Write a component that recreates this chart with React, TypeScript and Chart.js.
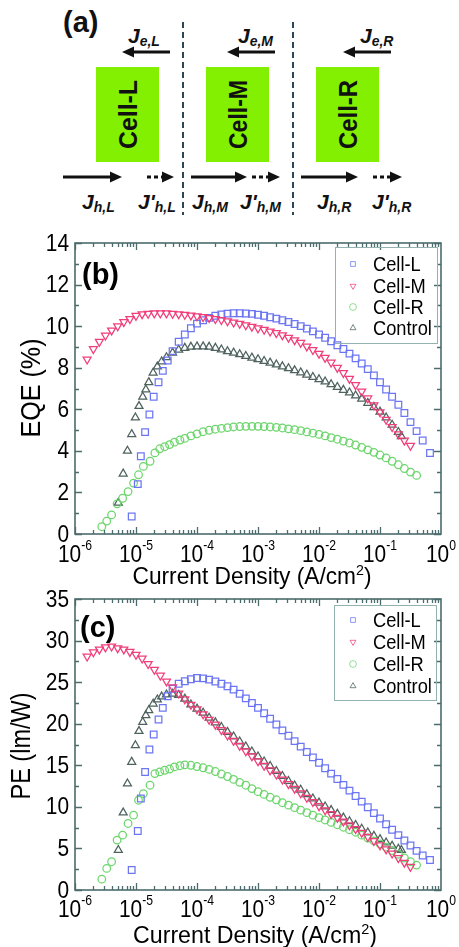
import { useEffect, useRef } from 'react';
import { Chart, registerables } from 'chart.js';

Chart.register(...registerables);

const SANS = '"Liberation Sans", Arial, Helvetica, sans-serif';
const FRAME = '#4b6b6c';

// ---------------- measured data ----------------
const seriesNames = ['Cell-L', 'Cell-M', 'Cell-R', 'Control'];

// current density (A/cm2) of every recorded step, one list per device
const cellL_J = [
  8.5e-6, 1.07e-5, 1.2e-5, 1.41e-5, 1.66e-5, 1.95e-5, 2.34e-5, 2.75e-5, 3.31e-5, 3.98e-5, 5.01e-5, 6.31e-5, 7.94e-5,
  1e-4, 1.26e-4, 1.58e-4, 2e-4, 2.51e-4, 3.16e-4, 3.98e-4, 5.01e-4, 6.31e-4, 7.94e-4,
  1e-3, 1.26e-3, 1.58e-3, 2e-3, 2.51e-3, 3.16e-3, 3.98e-3, 5.01e-3, 6.31e-3, 7.94e-3,
  0.01, 0.0126, 0.0158, 0.02, 0.0251, 0.0316, 0.0398, 0.0501, 0.0631, 0.0794,
  0.1, 0.126, 0.158, 0.2, 0.251, 0.316, 0.398, 0.501, 0.66,
];
const cellM_J = [
  1.58e-6, 2e-6, 2.51e-6, 3.16e-6, 3.98e-6, 5.01e-6, 6.31e-6, 7.94e-6,
  1e-5, 1.26e-5, 1.58e-5, 2e-5, 2.51e-5, 3.16e-5, 3.98e-5, 5.01e-5, 6.31e-5, 7.94e-5,
  1e-4, 1.26e-4, 1.58e-4, 2e-4, 2.51e-4, 3.16e-4, 3.98e-4, 5.01e-4, 6.31e-4, 7.94e-4,
  1e-3, 1.26e-3, 1.58e-3, 2e-3, 2.51e-3, 3.16e-3, 3.98e-3, 5.01e-3, 6.31e-3, 7.94e-3,
  0.01, 0.0126, 0.0158, 0.02, 0.0251, 0.0316, 0.0398, 0.0501, 0.0631, 0.0794,
  0.1, 0.126, 0.158, 0.2, 0.251, 0.316,
];
const cellR_J = [
  2.75e-6, 3.31e-6, 3.98e-6, 4.9e-6, 6.03e-6, 7.41e-6, 9.12e-6, 1.1e-5, 1.32e-5,
  1.7e-5, 2.04e-5, 2.45e-5, 2.95e-5, 3.55e-5, 4.27e-5, 5.25e-5, 6.31e-5, 7.94e-5,
  1e-4, 1.26e-4, 1.58e-4, 2e-4, 2.51e-4, 3.16e-4, 3.98e-4, 5.01e-4, 6.31e-4, 7.94e-4,
  1e-3, 1.26e-3, 1.58e-3, 2e-3, 2.51e-3, 3.16e-3, 3.98e-3, 5.01e-3, 6.31e-3, 7.94e-3,
  0.01, 0.0126, 0.0158, 0.02, 0.0251, 0.0316, 0.0398, 0.0501, 0.0631, 0.0794,
  0.1, 0.126, 0.158, 0.2, 0.251, 0.316, 0.398,
];
const control_J = [
  5.13e-6, 6.17e-6, 7.24e-6, 8.51e-6, 9.77e-6, 1.12e-5, 1.29e-5, 1.45e-5, 1.62e-5,
  1.91e-5, 2.24e-5, 2.63e-5, 3.16e-5, 3.98e-5, 5.01e-5, 6.31e-5, 7.94e-5,
  1e-4, 1.26e-4, 1.58e-4, 2e-4, 2.51e-4, 3.16e-4, 3.98e-4, 5.01e-4, 6.31e-4, 7.94e-4,
  1e-3, 1.26e-3, 1.58e-3, 2e-3, 2.51e-3, 3.16e-3, 3.98e-3, 5.01e-3, 6.31e-3, 7.94e-3,
  0.01, 0.0126, 0.0158, 0.02, 0.0251, 0.0316, 0.0398, 0.0501, 0.0631, 0.0794,
  0.1, 0.126, 0.158, 0.2, 0.224,
];

// external quantum efficiency (%)
const cellL_EQE = [
  0.84, 2.4, 3.74, 4.9, 5.75, 6.6, 7.3, 7.85, 8.35, 8.8, 9.25, 9.6, 9.9,
  10.12, 10.28, 10.4, 10.5, 10.56, 10.6, 10.62, 10.62, 10.61, 10.59,
  10.55, 10.5, 10.43, 10.36, 10.28, 10.2, 10.1, 10.0, 9.88, 9.75,
  9.6, 9.44, 9.27, 9.08, 8.9, 8.68, 8.45, 8.2, 7.93, 7.63,
  7.3, 6.95, 6.6, 6.22, 5.82, 5.38, 4.95, 4.5, 3.9,
];
const cellM_EQE = [
  8.4, 8.9, 9.25, 9.55, 9.8, 10.0, 10.2, 10.35,
  10.5, 10.58, 10.6, 10.62, 10.62, 10.62, 10.6, 10.58, 10.55, 10.52,
  10.48, 10.44, 10.4, 10.35, 10.3, 10.24, 10.18, 10.12, 10.05, 9.98,
  9.9, 9.83, 9.75, 9.67, 9.57, 9.45, 9.33, 9.2, 9.03, 8.86,
  8.68, 8.48, 8.25, 8.0, 7.75, 7.47, 7.17, 6.86, 6.53, 6.2,
  5.86, 5.5, 5.15, 4.8, 4.5, 4.25,
];
const cellR_EQE = [
  0.35, 0.62, 0.92, 1.45, 1.72, 2.04, 2.45, 2.85, 3.25,
  3.5, 3.9, 4.1, 4.2, 4.3, 4.42, 4.52, 4.6, 4.72,
  4.82, 4.92, 4.99, 5.04, 5.08, 5.12, 5.15, 5.17, 5.18, 5.18,
  5.18, 5.17, 5.15, 5.13, 5.1, 5.06, 5.02, 4.97, 4.91, 4.85,
  4.79, 4.72, 4.64, 4.56, 4.47, 4.38, 4.28, 4.17, 4.05, 3.93,
  3.8, 3.66, 3.5, 3.33, 3.15, 2.98, 2.82,
];
const control_EQE = [
  1.5, 2.9, 4.0, 4.8, 5.6, 6.15, 6.6, 6.95, 7.3,
  7.75, 8.05, 8.3, 8.5, 8.72, 8.86, 8.95, 9.0,
  9.02, 9.02, 9.0, 8.95, 8.87, 8.79, 8.72, 8.64, 8.56, 8.48,
  8.4, 8.32, 8.24, 8.15, 8.06, 7.97, 7.87, 7.77, 7.66, 7.55,
  7.44, 7.33, 7.2, 7.07, 6.93, 6.8, 6.66, 6.5, 6.3, 6.1,
  5.88, 5.6, 5.25, 4.9, 4.7,
];

// power efficiency (lm/W)
const cellL_PE = [
  2.4, 7.1, 11.0, 14.2, 16.9, 18.7, 20.5, 21.9, 23.3, 24.2, 24.8, 25.1, 25.35,
  25.5, 25.45, 25.3, 25.07, 24.8, 24.5, 24.1, 23.6, 23.05, 22.5,
  21.9, 21.25, 20.6, 19.9, 19.2, 18.55, 17.9, 17.25, 16.6, 15.95,
  15.3, 14.65, 14.0, 13.35, 12.65, 11.95, 11.3, 10.63, 9.95, 9.25,
  8.6, 7.9, 7.25, 6.6, 5.95, 5.35, 4.7, 4.15, 3.6,
];
const cellM_PE = [
  28.1, 28.6, 28.95, 29.2, 29.3, 29.1, 28.95, 28.65,
  28.3, 27.85, 27.2, 26.5, 25.8, 25.1, 24.4, 23.65, 22.95, 22.3,
  21.75, 21.15, 20.5, 19.9, 19.25, 18.6, 17.95, 17.35, 16.7, 16.1,
  15.5, 14.95, 14.4, 13.9, 13.3, 12.75, 12.2, 11.65, 11.1, 10.6,
  10.1, 9.6, 9.15, 8.7, 8.25, 7.8, 7.35, 6.9, 6.4, 5.9,
  5.4, 4.9, 4.4, 3.85, 3.3, 2.8,
];
const cellR_PE = [
  1.3, 2.6, 3.4, 6.0, 6.6, 8.0, 9.0, 10.8, 11.6,
  12.6, 14.0, 14.2, 14.4, 14.55, 14.8, 14.95, 15.05, 15.0,
  14.85, 14.7, 14.5, 14.25, 13.95, 13.65, 13.3, 12.95, 12.6, 12.2,
  11.83, 11.5, 11.15, 10.85, 10.5, 10.2, 9.9, 9.6, 9.3, 9.0,
  8.7, 8.42, 8.13, 7.85, 7.55, 7.25, 6.95, 6.6, 6.25, 5.9,
  5.55, 5.15, 4.75, 4.3, 3.85, 3.4, 3.0,
];
const control_PE = [
  4.8, 9.3, 12.8, 15.4, 17.4, 19.1, 20.2, 21.0, 21.6,
  22.4, 22.9, 23.25, 23.5, 23.58, 23.45, 23.0, 22.3,
  21.8, 21.3, 20.7, 20.15, 19.6, 19.0, 18.45, 17.85, 17.25, 16.65,
  16.05, 15.45, 14.9, 14.3, 13.7, 13.1, 12.55, 12.05, 11.5, 11.0,
  10.5, 10.03, 9.6, 9.15, 8.7, 8.25, 7.8, 7.35, 6.9, 6.5,
  6.1, 5.7, 5.3, 4.95, 4.8,
];

const xTickExponents = [-6, -5, -4, -3, -2, -1, 0];
const eqeTicks = [0, 2, 4, 6, 8, 10, 12, 14];
const peTicks = [0, 5, 10, 15, 20, 25, 30, 35];

// ---------------- styling ----------------
const currentDensity = [cellL_J, cellM_J, cellR_J, control_J];

const markerStyles = [
  { color: 'rgb(108,118,242)', pointStyle: 'rect', radius: 4.7, rotation: 0, order: 2 },
  { color: 'rgb(240,62,122)', pointStyle: 'triangle', radius: 4.6, rotation: 180, order: 1 },
  { color: 'rgb(108,214,108)', pointStyle: 'circle', radius: 3.8, rotation: 0, order: 3 },
  { color: 'rgb(78,98,94)', pointStyle: 'triangle', radius: 4.6, rotation: 0, order: 4 },
];

const eqePanel = {
  top: 212,
  height: 380,
  padding: { left: 75, right: 18, top: 31, bottom: 58 },
  yMax: 14,
  yTicks: eqeTicks,
  yMinor: 1,
  values: [cellL_EQE, cellM_EQE, cellR_EQE, control_EQE],
  letter: '(b)',
  letterPos: [82, 284],
  yTitle: 'EQE (%)',
  yTitlePos: [33, 388],
  yTitleLen: 99,
  tickBaseline: 562,
  xTitleBaseline: 584,
  xTitleCenter: 252,
  xTitleLen: 239,
  legendBox: [335, 247, 102, 96],
  legendRows: [264, 286, 307, 328],
};

const pePanel = {
  top: 580,
  height: 367,
  padding: { left: 75, right: 18, top: 19, bottom: 57 },
  yMax: 35,
  yTicks: peTicks,
  yMinor: 2.5,
  values: [cellL_PE, cellM_PE, cellR_PE, control_PE],
  letter: '(c)',
  letterPos: [80, 637],
  yTitle: 'PE (lm/W)',
  yTitlePos: [23, 746],
  yTitleLen: 107,
  tickBaseline: 917,
  xTitleBaseline: 943,
  xTitleCenter: 255,
  xTitleLen: 244,
  legendBox: [334, 605, 102, 95],
  legendRows: [620, 642, 664, 686],
};

function drawText(ctx: any, s: string, x: number, y: number, size: number, o: any = {}) {
  ctx.save();
  ctx.font = `${o.weight || 'normal'} ${size}px ${SANS}`;
  ctx.textAlign = o.align || 'left';
  ctx.textBaseline = o.baseline || 'alphabetic';
  ctx.fillStyle = o.color || '#000';
  ctx.translate(x, y);
  if (o.rotate) ctx.rotate(o.rotate);
  ctx.scale(o.sx || 1, 1);
  ctx.fillText(s, 0, 0);
  ctx.restore();
}

function textWidth(ctx: any, s: string, size: number, weight = 'normal') {
  ctx.save();
  ctx.font = `${weight} ${size}px ${SANS}`;
  const w = ctx.measureText(s).width;
  ctx.restore();
  return w;
}

function drawMarker(ctx: any, style: any, x: number, y: number, r: number) {
  ctx.save();
  ctx.strokeStyle = style.color;
  ctx.lineWidth = 1;
  ctx.beginPath();
  if (style.pointStyle === 'rect') {
    const h = r * Math.SQRT1_2;
    ctx.rect(x - h, y - h, 2 * h, 2 * h);
  } else if (style.pointStyle === 'circle') {
    ctx.arc(x, y, r, 0, Math.PI * 2);
  } else {
    const dir = style.rotation === 180 ? -1 : 1;
    ctx.moveTo(x, y - dir * r);
    ctx.lineTo(x + r * 0.866, y + dir * r * 0.5);
    ctx.lineTo(x - r * 0.866, y + dir * r * 0.5);
    ctx.closePath();
  }
  ctx.stroke();
  ctx.restore();
}

function makeDecor(spec: any) {
  return {
    id: 'panelDecor',
    afterDraw(chart: any) {
      const ctx = chart.ctx;
      const a = chart.chartArea;
      const xs = chart.scales.x;
      const ys = chart.scales.y;
      const T = spec.top;
      ctx.save();

      // inward ticks on all four sides
      ctx.strokeStyle = FRAME;
      ctx.lineWidth = 1.3;
      ctx.beginPath();
      for (let e = -6; e < 0; e++) {
        for (let m = 1; m < 10; m++) {
          const px = Math.round(xs.getPixelForValue(m * Math.pow(10, e))) + 0.5;
          const len = m === 1 ? 7 : 4;
          ctx.moveTo(px, a.bottom);
          ctx.lineTo(px, a.bottom - len);
          ctx.moveTo(px, a.top);
          ctx.lineTo(px, a.top + len);
        }
      }
      for (let v = 0; v <= spec.yMax + 1e-9; v += spec.yMinor) {
        const py = Math.round(ys.getPixelForValue(v)) + 0.5;
        const len = spec.yTicks.includes(v) ? 7 : 4;
        ctx.moveTo(a.left, py);
        ctx.lineTo(a.left + len, py);
        ctx.moveTo(a.right, py);
        ctx.lineTo(a.right - len, py);
      }
      ctx.stroke();

      // frame
      ctx.lineWidth = 1.6;
      ctx.strokeRect(a.left, a.top, a.right - a.left, a.bottom - a.top);

      // y tick labels
      spec.yTicks.forEach((v: number) => {
        drawText(ctx, String(v), 69, ys.getPixelForValue(v) + 1, 24, { align: 'right', baseline: 'middle', sx: 0.87 });
      });

      // x tick labels 10^n
      xTickExponents.forEach((n) => {
        const px = xs.getPixelForValue(Math.pow(10, n));
        const exp = String(n);
        const wb = textWidth(ctx, '10', 24) * 0.87;
        const we = textWidth(ctx, exp, 14) * 0.87;
        const x0 = px - (wb + we) / 2;
        drawText(ctx, '10', x0, spec.tickBaseline - T, 24, { sx: 0.87 });
        drawText(ctx, exp, x0 + wb, spec.tickBaseline - T - 12, 14, { sx: 0.87 });
      });

      // x axis title with superscript
      const p1 = 'Current Density (A/cm';
      const w1 = textWidth(ctx, p1, 24);
      const w2 = textWidth(ctx, '2', 15);
      const w3 = textWidth(ctx, ')', 24);
      const sx = spec.xTitleLen / (w1 + w2 + w3);
      let xx = spec.xTitleCenter - spec.xTitleLen / 2;
      const yb = spec.xTitleBaseline - T;
      drawText(ctx, p1, xx, yb, 24, { sx });
      xx += w1 * sx;
      drawText(ctx, '2', xx, yb - 9, 15, { sx });
      xx += w2 * sx;
      drawText(ctx, ')', xx, yb, 24, { sx });

      // y axis title
      const wy = textWidth(ctx, spec.yTitle, 27);
      drawText(ctx, spec.yTitle, spec.yTitlePos[0], spec.yTitlePos[1] - T, 27, {
        align: 'center',
        baseline: 'middle',
        rotate: -Math.PI / 2,
        sx: spec.yTitleLen / wy,
      });

      // panel letter
      drawText(ctx, spec.letter, spec.letterPos[0], spec.letterPos[1] - T, 29, { weight: 'bold' });

      // legend
      const [bx, by, bw, bh] = spec.legendBox;
      ctx.strokeStyle = '#93b1ae';
      ctx.lineWidth = 1;
      ctx.strokeRect(bx + 0.5, by - T + 0.5, bw, bh);
      chart.data.datasets.forEach((ds: any, i: number) => {
        const ry = spec.legendRows[i] - T;
        ctx.save();
        ctx.globalAlpha = 0.75;
        drawMarker(ctx, markerStyles[i], 353, ry, 3.4);
        ctx.restore();
        drawText(ctx, ds.label, 373, ry + 1, 21, { baseline: 'middle', sx: 0.87 });
      });

      ctx.restore();
    },
  };
}

function PanelChart({ spec }: { spec: any }) {
  const ref = useRef<HTMLCanvasElement>(null);
  useEffect(() => {
    const canvas = ref.current as HTMLCanvasElement;
    const datasets = spec.values.map((vals: number[], i: number) => {
      const m = markerStyles[i];
      return {
        label: seriesNames[i],
        data: currentDensity[i].map((j, k) => ({ x: j, y: vals[k] })),
        pointStyle: m.pointStyle,
        pointRadius: m.radius,
        pointRotation: m.rotation,
        pointBorderWidth: 1.25,
        pointBorderColor: m.color,
        pointBackgroundColor: 'rgba(255,255,255,0)',
        showLine: false,
        order: m.order,
      };
    });
    const chart = new Chart(canvas, {
      type: 'scatter',
      data: { datasets },
      options: {
        responsive: false,
        animation: false,
        devicePixelRatio: 1,
        events: [],
        layout: { padding: spec.padding },
        scales: {
          x: { type: 'logarithmic', min: 1e-6, max: 1, display: false },
          y: { type: 'linear', min: 0, max: spec.yMax, display: false },
        },
        plugins: { legend: { display: false }, tooltip: { enabled: false }, title: { display: false } },
      },
      plugins: [makeDecor(spec)],
    } as any);
    return () => chart.destroy();
  }, [spec]);
  return (
    <canvas
      ref={ref}
      width={459}
      height={spec.height}
      style={{ position: 'absolute', left: 0, top: spec.top, width: 459, height: spec.height }}
    />
  );
}

// ---------------- schematic of the three stacked units ----------------
const schematicCells = [
  { name: 'Cell-L', tag: 'L', boxX: 96, eArrow: [170, 122], eLabelX: 128, hArrow: [63, 122], hDotted: [147, 174], hLabelX: 82, hpLabelX: 138 },
  { name: 'Cell-M', tag: 'M', boxX: 206, eArrow: [275, 227], eLabelX: 238, hArrow: [191, 247], hDotted: [252, 280], hLabelX: 192, hpLabelX: 240 },
  { name: 'Cell-R', tag: 'R', boxX: 316, eArrow: [391, 343], eLabelX: 360, hArrow: [301, 358], hDotted: [373, 402], hLabelX: 317, hpLabelX: 372 },
];
const dividerX = [183, 293];

function Arrow({ from, to, y, dotted }: { from: number; to: number; y: number; dotted?: boolean }) {
  const dir = to > from ? 1 : -1;
  const headLen = 12;
  const base = to - dir * headLen;
  return (
    <g>
      <line
        x1={from}
        y1={y}
        x2={base + dir * 1}
        y2={y}
        stroke="#111"
        strokeWidth={3.2}
        strokeDasharray={dotted ? '4 3' : undefined}
      />
      <polygon points={`${to},${y} ${base},${y - 5.5} ${base},${y + 5.5}`} fill="#111" />
    </g>
  );
}

function Schematic() {
  const labelStyle = { fontFamily: SANS, fontWeight: 'bold', fontStyle: 'italic' } as any;
  return (
    <svg width={459} height={215} style={{ position: 'absolute', left: 0, top: 0 }}>
      <text x={63} y={32} fontFamily={SANS} fontWeight="bold" fontSize={29} fill="#111">
        (a)
      </text>
      {dividerX.map((x) => (
        <line key={x} x1={x} y1={22} x2={x} y2={215} stroke="#2c4858" strokeWidth={2} strokeDasharray="6 4" />
      ))}
      {schematicCells.map((c) => (
        <g key={c.name}>
          <rect x={c.boxX} y={67} width={63} height={95} fill="#82f000" />
          <text
            x={0}
            y={0}
            transform={`translate(${c.boxX + 31.5},${114.5}) rotate(-90)`}
            textAnchor="middle"
            dominantBaseline="central"
            fontFamily={SANS}
            fontWeight="bold"
            fontSize={26}
            textLength={69}
            lengthAdjust="spacingAndGlyphs"
            fill="#111"
          >
            {c.name}
          </text>
          <Arrow from={c.eArrow[0]} to={c.eArrow[1]} y={52} />
          <text x={c.eLabelX} y={43} {...labelStyle} fontSize={21} fill="#111">
            J<tspan fontSize={14} dy={3}>{`e,${c.tag}`}</tspan>
          </text>
          <Arrow from={c.hArrow[0]} to={c.hArrow[1]} y={177} />
          <Arrow from={c.hDotted[0]} to={c.hDotted[1]} y={177} dotted />
          <text x={c.hLabelX} y={209} {...labelStyle} fontSize={21} fill="#111">
            J<tspan fontSize={14} dy={3}>{`h,${c.tag}`}</tspan>
          </text>
          <text x={c.hpLabelX} y={209} {...labelStyle} fontSize={21} fill="#111">
            J'<tspan fontSize={14} dy={3}>{`h,${c.tag}`}</tspan>
          </text>
        </g>
      ))}
    </svg>
  );
}

export default function App() {
  return (
    <div style={{ position: 'absolute', left: 0, top: 0, width: 459, height: 947, background: '#fff', overflow: 'hidden' }}>
      <Schematic />
      <PanelChart spec={eqePanel} />
      <PanelChart spec={pePanel} />
    </div>
  );
}
